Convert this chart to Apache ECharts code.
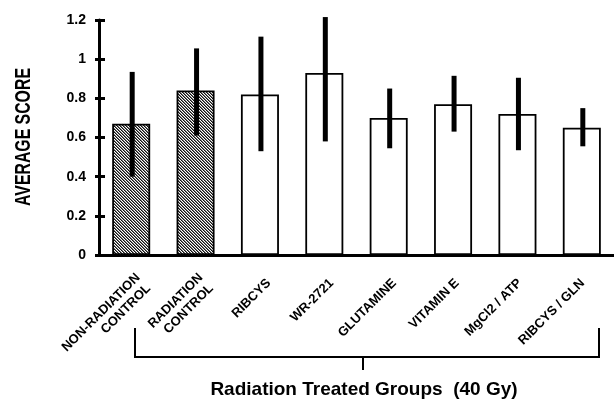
<!DOCTYPE html>
<html lang="en">
<head>
    <meta charset="UTF-8">
    <title>Average score</title>
    <style>
        html, body { margin: 0; padding: 0; background: #fff; }
    </style>
</head>
<body>
<div id="main" style="width: 614px; height: 402px;"></div>
<script src="https://cdn.jsdelivr.net/npm/echarts@6/dist/echarts.min.js"></script>
<script type="text/javascript">
    // groups, means and error bar ends
    var categories = ['NON-RADIATION\nCONTROL', 'RADIATION\nCONTROL', 'RIBCYS', 'WR-2721',
        'GLUTAMINE', 'VITAMIN E', 'MgCl2 / ATP', 'RIBCYS / GLN'];
    var means = [0.67, 0.84, 0.82, 0.93, 0.70, 0.77, 0.72, 0.65];
    var errLow = [0.40, 0.61, 0.53, 0.58, 0.545, 0.63, 0.535, 0.555];
    var errHigh = [0.935, 1.055, 1.115, 1.215, 0.85, 0.915, 0.905, 0.75];

    // fine "\\\" hatch for the two control bars
    var hatch = document.createElement('canvas');
    hatch.width = 3; hatch.height = 3;
    var hctx = hatch.getContext('2d');
    hctx.fillStyle = '#fff';
    hctx.fillRect(0, 0, 3, 3);
    for (var i = 0; i < 3; i++) {
        hctx.fillStyle = '#111';
        hctx.fillRect(i, i, 1, 1);
        hctx.fillStyle = '#777';
        hctx.fillRect((i + 1) % 3, i, 1, 1);
    }

    var barData = means.map(function (v, i) {
        return {
            value: v,
            itemStyle: {color: i < 2 ? {image: hatch, repeat: 'repeat'} : '#fff'}
        };
    });
    var errData = means.map(function (v, i) {
        return [i, errLow[i], errHigh[i]];
    });

    var font = '"Liberation Sans", Arial, sans-serif';

    var chart = echarts.init(document.getElementById('main'));
    var option = {
        backgroundColor: '#fff',
        animation: false,
        grid: [
            {left: 99, top: 20, width: 522, bottom: 147},
            // same grid moved right, only carries the tilted labels
            {left: 112, top: 20, width: 522, bottom: 147}
        ],
        xAxis: [
            {
                type: 'category',
                gridIndex: 0,
                data: categories,
                axisLine: {lineStyle: {color: '#000', width: 3}},
                axisTick: {show: false},
                axisLabel: {show: false}
            },
            {
                type: 'category',
                gridIndex: 1,
                data: categories,
                axisLine: {show: false},
                axisTick: {show: false},
                axisLabel: {
                    rotate: 45,
                    margin: 26,
                    interval: 0,
                    color: '#000',
                    fontFamily: font,
                    fontWeight: 'bold',
                    fontSize: 13,
                    lineHeight: 15
                }
            }
        ],
        yAxis: [
            {
                type: 'value',
                gridIndex: 0,
                position: 'left',
                min: 0,
                max: 1.2,
                interval: 0.2,
                splitLine: {show: false},
                axisLine: {show: true, lineStyle: {color: '#000', width: 3}},
                axisTick: {show: true, length: 4, lineStyle: {color: '#000', width: 3}},
                axisLabel: {
                    margin: 13,
                    color: '#000',
                    fontFamily: font,
                    fontWeight: 'bold',
                    fontSize: 14
                }
            },
            {
                // inner half of the crossing ticks
                type: 'value',
                gridIndex: 0,
                position: 'left',
                min: 0,
                max: 1.2,
                interval: 0.2,
                splitLine: {show: false},
                axisLine: {show: false},
                axisTick: {show: true, inside: true, length: 6, lineStyle: {color: '#000', width: 3}},
                axisLabel: {show: false}
            },
            {
                type: 'value',
                gridIndex: 1,
                show: false
            }
        ],
        series: [
            {
                type: 'bar',
                xAxisIndex: 0,
                yAxisIndex: 0,
                barWidth: 38,
                data: barData,
                itemStyle: {borderColor: '#000', borderWidth: 1.8}
            },
            {
                type: 'custom',
                xAxisIndex: 0,
                yAxisIndex: 0,
                z: 5,
                data: errData,
                renderItem: function (params, api) {
                    var a = api.coord([api.value(0), api.value(1)]);
                    var b = api.coord([api.value(0), api.value(2)]);
                    return {
                        type: 'line',
                        shape: {x1: a[0] + 1, y1: a[1], x2: b[0] + 1, y2: b[1]},
                        style: {stroke: '#000', lineWidth: 5}
                    };
                }
            }
        ],
        graphic: [
            {
                // condensed axis title, no narrow face installed so squeeze it
                type: 'text',
                x: 24,
                y: 137,
                rotation: Math.PI / 2,
                scaleX: 0.72,
                style: {
                    text: 'AVERAGE SCORE',
                    fill: '#000',
                    font: 'bold 22px ' + font,
                    textAlign: 'center',
                    textVerticalAlign: 'middle'
                }
            },
            {
                type: 'polyline',
                shape: {points: [[135, 328], [135, 357], [599, 357], [599, 328]]},
                style: {stroke: '#000', lineWidth: 2, fill: null}
            },
            {
                type: 'line',
                shape: {x1: 363, y1: 357, x2: 363, y2: 370},
                style: {stroke: '#000', lineWidth: 2}
            },
            {
                type: 'text',
                x: 364,
                y: 390,
                style: {
                    text: 'Radiation Treated Groups  (40 Gy)',
                    fill: '#000',
                    font: 'bold 19px ' + font,
                    textAlign: 'center',
                    textVerticalAlign: 'middle'
                }
            }
        ]
    };
    chart.setOption(option);
</script>
</body>
</html>
